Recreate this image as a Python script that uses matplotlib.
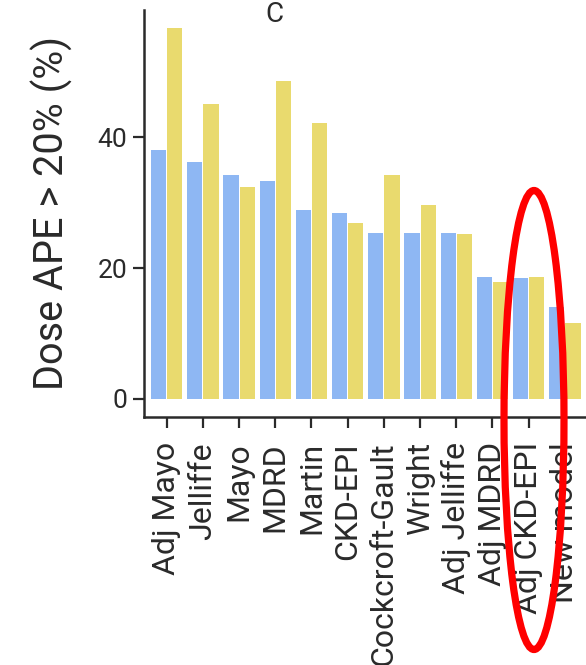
import numpy as np
import matplotlib
matplotlib.use("Agg")
import matplotlib.pyplot as plt
from matplotlib.patches import Ellipse

plt.rcParams['font.family'] = ['Roboto', 'DejaVu Sans']

# dose APE > 20% by equation, two groups per equation
equations = ["Adj Mayo", "Jelliffe", "Mayo", "MDRD", "Martin", "CKD-EPI",
             "Cockcroft-Gault", "Wright", "Adj Jelliffe", "Adj MDRD",
             "Adj CKD-EPI", "New model"]
blue_vals = [38.0, 36.2, 34.2, 33.3, 28.9, 28.4, 25.4, 25.4, 25.4, 18.7, 18.4, 14.1]
yellow_vals = [56.6, 45.0, 32.3, 48.5, 42.2, 26.9, 34.2, 29.6, 25.2, 17.9, 18.7, 11.6]
y_ticks = [0, 20, 40]

blue = "#8eb7f3"
yellow = "#e9da6e"
ink = "#2a2a2a"

W, H = 586, 665
fig = plt.figure(figsize=(W / 100, H / 100), dpi=100)

# axes box in pixels (left, right, top, bottom spine); right runs off the page
left_px, right_px, top_px, bot_px = 144, 600, 10, 417
ax = fig.add_axes([left_px / W, 1 - bot_px / H,
                   (right_px - left_px) / W, (bot_px - top_px) / H])

x = np.arange(len(equations))
bw = 0.42
ax.bar(x - 0.225, blue_vals, width=bw, color=blue, linewidth=0)
ax.bar(x + 0.225, yellow_vals, width=bw, color=yellow, linewidth=0)

ax.set_xlim(-0.627, 11.97)
ax.set_ylim(-2.75, 59.4)

ax.set_xticks(x)
ax.set_xticklabels(equations, rotation=90, fontsize=23, color=ink)
ax.set_yticks(y_ticks)
ax.set_yticklabels([str(v) for v in y_ticks], fontsize=19, color=ink)
ax.tick_params(axis="both", length=8, width=1.6, color=ink)
ax.tick_params(axis="x", pad=10)
ax.tick_params(axis="y", pad=4)

for s in ["top", "right"]:
    ax.spines[s].set_visible(False)
for s in ["left", "bottom"]:
    ax.spines[s].set_linewidth(1.8)
    ax.spines[s].set_color(ink)

ax.set_ylabel("Dose APE > 20% (%)", fontsize=28.5, color=ink, labelpad=18)

# panel letter at the top edge
fig.text(274 / W, 1 - 15 / H, "C", fontsize=20, color=ink,
         ha="center", va="center")

# highlight around Adj CKD-EPI
fig.add_artist(Ellipse((534 / W, 1 - 420 / H), 60 / W, 459 / H,
                       transform=fig.transFigure, fill=False,
                       edgecolor="#ff0000", linewidth=5.2))

fig.savefig("out.png", dpi=100)
